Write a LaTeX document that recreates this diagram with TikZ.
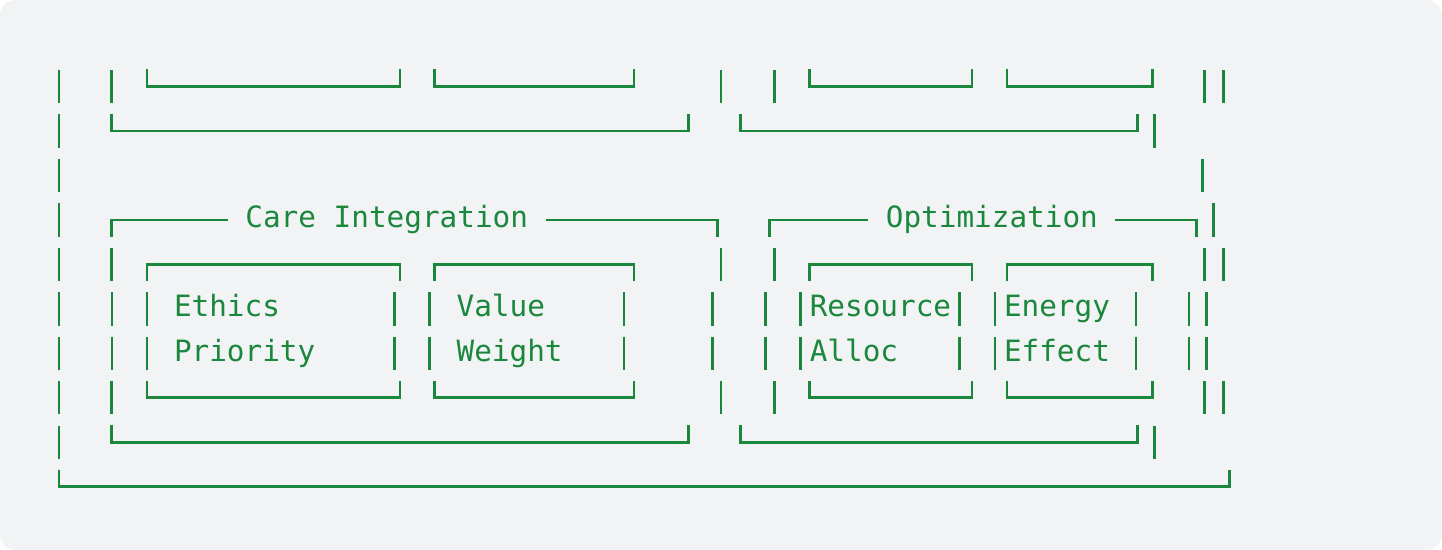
\documentclass[tikz,border=0pt]{standalone}
\usepackage{fontspec}
\newfontfamily\asciimono{DejaVu Sans Mono}
\definecolor{ink}{HTML}{1B873D}
\definecolor{bgpanel}{HTML}{F1F3F4}
% row centres (px, y downwards)
\def\rA{86.5}\def\rB{130.97}\def\rC{175.44}\def\rD{219.9}\def\rE{264.4}
\def\rF{308.85}\def\rG{353.3}\def\rH{397.8}\def\rI{442.3}\def\rJ{486.7}
\newcommand\asciibar[2]{\draw[boxline] ({#1},{#2-16.7}) -- ({#1},{#2+16.7});}
\newcommand\asciitop[3]{\draw[boxline] ({#1},{#3+17}) -- ({#1},{#3}) -- ({#2},{#3}) -- ({#2},{#3+17});}
\newcommand\asciibot[3]{\draw[boxline] ({#1},{#3-17}) -- ({#1},{#3}) -- ({#2},{#3}) -- ({#2},{#3-17});}
\begin{document}
\begin{tikzpicture}[x=0.5pt,y=-0.5pt,
  boxline/.style={draw=ink,line width=1.3pt},
  lbl/.style={text=ink,inner sep=0pt,anchor=base west,
    font=\asciimono\fontsize{14.67pt}{17pt}\selectfont}]
\useasboundingbox (0,0) rectangle (1442,550);
\fill[white] (0,0) rectangle (1442,550);
\fill[bgpanel,rounded corners=8pt] (0,0) rectangle (1442,550);

% ---- row 1
\foreach \x in {58.8,111.4,720.8,774.3,1204.6,1223.2} {\asciibar{\x}{\rA}}
\asciibot{147.1}{399.8}{\rA}
\asciibot{434.6}{633.8}{\rA}
\asciibot{809.6}{972.1}{\rA}
\asciibot{1007.1}{1152.5}{\rA}
% ---- row 2
\foreach \x in {58.8,1154.6} {\asciibar{\x}{\rB}}
\asciibot{111.4}{688.2}{\rB}
\asciibot{740.4}{1137.5}{\rB}
% ---- row 3
\foreach \x in {58.8,1202.5} {\asciibar{\x}{\rC}}
% ---- row 4
\foreach \x in {58.8,1213.6} {\asciibar{\x}{\rD}}
\node[lbl] (care) at (245,{\rD+8}) {Care Integration};
\node[lbl] (opt) at (885.5,{\rD+8}) {Optimization};
\draw[boxline] (111.4,{\rD+17}) -- (111.4,\rD) -- (227.5,\rD);
\draw[boxline] (545.8,\rD) -- (717.2,\rD) -- (717.2,{\rD+17});
\draw[boxline] (769.6,{\rD+17}) -- (769.6,\rD) -- (867.9,\rD);
\draw[boxline] (1115.4,\rD) -- (1196.4,\rD) -- (1196.4,{\rD+17});
% ---- row 5
\foreach \x in {58.8,111.4,720.8,774.3,1204.6,1223.2} {\asciibar{\x}{\rE}}
\asciitop{147.1}{399.8}{\rE}
\asciitop{434.6}{633.8}{\rE}
\asciitop{809.6}{972.1}{\rE}
\asciitop{1007.1}{1152.5}{\rE}
% ---- rows 6 and 7
\foreach \r in {\rF,\rG} {
  \foreach \x in {58.8,111.8,147.1,394.3,429.7,623.9,712.2,765.2,800.5,959.5,994.8,1136.1,1189.0,1206.7} {\asciibar{\x}{\r}}
}
\node[lbl] (ethics) at (173.6,{\rF+8}) {Ethics};
\node[lbl] (value) at (456.2,{\rF+8}) {Value};
\node[lbl] (resource) at (809.4,{\rF+8}) {Resource};
\node[lbl] (energy) at (1003.6,{\rF+8}) {Energy};
\node[lbl] (priority) at (173.6,{\rG+8}) {Priority};
\node[lbl] (weight) at (456.2,{\rG+8}) {Weight};
\node[lbl] (alloc) at (809.4,{\rG+8}) {Alloc};
\node[lbl] (effect) at (1003.6,{\rG+8}) {Effect};
% ---- row 8
\foreach \x in {58.8,111.4,720.8,774.3,1204.6,1223.2} {\asciibar{\x}{\rH}}
\asciibot{147.1}{399.8}{\rH}
\asciibot{434.6}{633.8}{\rH}
\asciibot{809.6}{972.1}{\rH}
\asciibot{1007.1}{1152.5}{\rH}
% ---- row 9
\foreach \x in {58.8,1154.6} {\asciibar{\x}{\rI}}
\asciibot{111.4}{688.2}{\rI}
\asciibot{740.4}{1137.5}{\rI}
% ---- row 10
\asciibot{58.8}{1229.3}{\rJ}
\end{tikzpicture}
\end{document}
